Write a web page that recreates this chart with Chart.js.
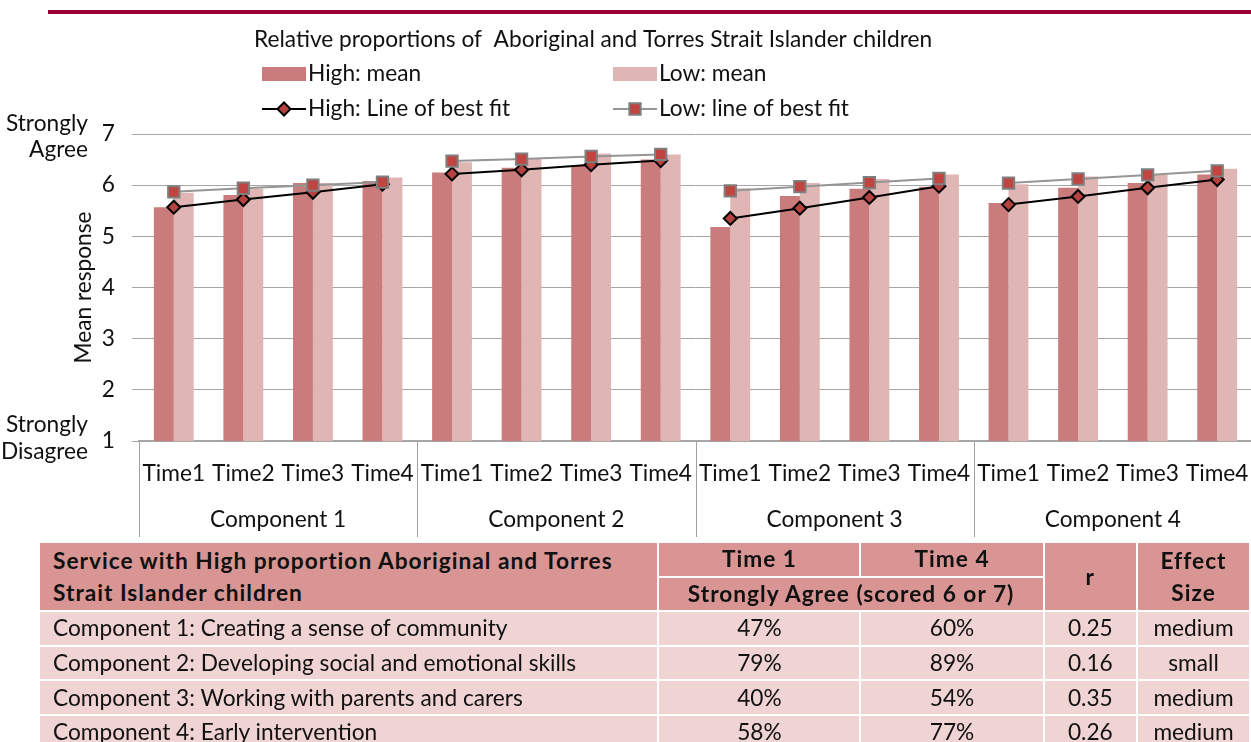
<!DOCTYPE html>
<html>
<head>
<meta charset="utf-8">
<script src="https://cdn.jsdelivr.net/npm/chart.js@4.4.1/dist/chart.umd.min.js"></script>
<style>
html, body { margin: 0; padding: 0; background: #fff; width: 1251px; height: 742px; overflow: hidden; }
body { position: relative; font-family: Lato, "Open Sans", sans-serif; color: #111; }
.rule { position: absolute; left: 48px; top: 10px; width: 1210px; height: 4px; background: #990033; }
#wrap { position: absolute; left: 0; top: 0; width: 1262px; height: 542px; }
#tbl { position: absolute; left: 38px; top: 541px; border-collapse: separate; border-spacing: 2px; table-layout: fixed; }
#tbl th, #tbl td { padding: 0; height: 32.6px; line-height: 32px; text-align: center; white-space: nowrap; overflow: hidden; }
#tbl th { background: #d99594; font-weight: bold; letter-spacing: 1px; }
#tbl td { background: #f0d4d3; font-weight: normal; }
#tbl .lft { text-align: left; padding-left: 13px; }
</style>
</head>
<body>
<div class="rule"></div>
<div id="wrap"><canvas id="grafica"></canvas></div>
<table id="tbl">
  <colgroup><col style="width:619px"><col style="width:201px"><col style="width:182px"><col style="width:93px"><col style="width:112px"></colgroup>
  <thead id="tbl-head"></thead>
  <tbody id="tbl-body"></tbody>
</table>
<script>
// --- DATOS ---
const chartTitle = 'Relative proportions of  Aboriginal and Torres Strait Islander children';
const timeLabels = ['Time1', 'Time2', 'Time3', 'Time4'];
const componentNames = ['Component 1', 'Component 2', 'Component 3', 'Component 4'];
const yTickValues = [1, 2, 3, 4, 5, 6, 7];

const highMean = [5.57, 5.81, 6.04, 6.08,  6.25, 6.34, 6.39, 6.50,  5.18, 5.79, 5.93, 5.97,  5.65, 5.95, 6.04, 6.21];
const lowMean  = [5.85, 5.93, 6.04, 6.15,  6.45, 6.51, 6.62, 6.60,  5.94, 6.04, 6.12, 6.21,  6.02, 6.17, 6.20, 6.32];
const highFit  = [5.57, 5.72, 5.86, 6.02,  6.22, 6.30, 6.40, 6.48,  5.35, 5.55, 5.76, 5.98,  5.62, 5.78, 5.95, 6.11];
const lowFit   = [5.87, 5.94, 6.00, 6.06,  6.47, 6.51, 6.56, 6.60,  5.89, 5.97, 6.05, 6.13,  6.04, 6.12, 6.20, 6.28];

// tabla
const tableTitle = ['Service with High proportion Aboriginal and Torres', 'Strait Islander children'];
const tableComponents = ['Component 1: Creating a sense of community', 'Component 2: Developing social and emotional skills',
  'Component 3: Working with parents and carers', 'Component 4: Early intervention'];
const time1Agree = ['47%', '79%', '40%', '58%'];
const time4Agree = ['60%', '89%', '54%', '77%'];
const rValues = ['0.25', '0.16', '0.35', '0.26'];
const effectSizes = ['medium', 'small', 'medium', 'medium'];

const FONT = 'Lato';
// tamaño de letra ajustado para que el título ocupe lo mismo que en la imagen
const mctx = document.createElement('canvas').getContext('2d');
mctx.font = '100px ' + FONT;
const fs = Math.round(1000 * 679 / mctx.measureText(chartTitle).width) / 10;
const txt = '#111';

// --- TABLA ---
function renderTabla() {
    document.getElementById('tbl').style.fontSize = fs + 'px';
    document.getElementById('tbl-head').innerHTML =
        `<tr><th rowspan="2" class="lft">${tableTitle[0]}<br>${tableTitle[1]}</th><th>Time 1</th><th>Time 4</th>` +
        `<th rowspan="2">r</th><th rowspan="2">Effect<br>Size</th></tr>` +
        `<tr><th colspan="2">Strongly Agree (scored 6 or 7)</th></tr>`;
    let rows = '';
    tableComponents.forEach((c, i) => {
        rows += `<tr><td class="lft">${c}</td><td>${time1Agree[i]}</td><td>${time4Agree[i]}</td><td>${rValues[i]}</td><td>${effectSizes[i]}</td></tr>`;
    });
    document.getElementById('tbl-body').innerHTML = rows;
}

// --- GRÁFICA ---
const labels = [];
componentNames.forEach(() => timeLabels.forEach(t => labels.push(t)));

const gapSegment = color => ({ borderColor: ctx => (ctx.p0DataIndex % 4 === 3 ? 'rgba(0,0,0,0)' : color) });

// leyenda, textos del eje y niveles del eje x
const extras = {
    id: 'extras',
    afterDraw(chart) {
        const ctx = chart.ctx;
        const x = chart.scales.x;
        const area = chart.chartArea;
        const font = fs + 'px ' + FONT;
        ctx.save();
        ctx.fillStyle = txt;
        ctx.font = font;
        ctx.textBaseline = 'middle';
        ctx.textAlign = 'left';
        ctx.fillText(chartTitle, 254, 40);

        // leyenda en dos columnas
        const ds = chart.data.datasets;
        const slots = [[262, 74], [613, 74], [262, 109], [613, 109]];
        ds.forEach((d, i) => {
            const [lx, ly] = slots[i];
            if (d.type === 'line') {
                ctx.strokeStyle = d.borderColor;
                ctx.lineWidth = d.borderWidth;
                ctx.beginPath(); ctx.moveTo(lx, ly); ctx.lineTo(lx + 44, ly); ctx.stroke();
                ctx.fillStyle = d.pointBackgroundColor;
                ctx.strokeStyle = d.pointBorderColor;
                ctx.lineWidth = d.pointBorderWidth;
                Chart.helpers.drawPoint(ctx, { pointStyle: d.pointStyle, radius: d.pointRadius, rotation: 0, borderWidth: d.pointBorderWidth }, lx + 22, ly);
            } else {
                ctx.fillStyle = d.backgroundColor;
                ctx.fillRect(lx, ly - 7, 44, 14);
            }
            ctx.fillStyle = txt;
            ctx.fillText(d.label, lx + 46, ly);
        });

        // textos del eje y
        ctx.textAlign = 'right';
        ctx.fillText('Strongly', 88, 124);
        ctx.fillText('Agree', 88, 150);
        ctx.fillText('Strongly', 88, 425);
        ctx.fillText('Disagree', 88, 452);
        ctx.save();
        ctx.translate(84, (area.top + area.bottom) / 2);
        ctx.rotate(-Math.PI / 2);
        ctx.textAlign = 'center';
        ctx.fillText('Mean response', 0, 0);
        ctx.restore();

        // separadores y nombres de componentes
        const half = (x.getPixelForValue(1) - x.getPixelForValue(0)) / 2;
        ctx.strokeStyle = '#a0a0a0';
        ctx.lineWidth = 1;
        for (let i = 0; i <= componentNames.length; i++) {
            const px = Math.round(x.getPixelForValue(i * 4) - half) + 0.5;
            ctx.beginPath(); ctx.moveTo(px, area.bottom); ctx.lineTo(px, 537); ctx.stroke();
        }
        ctx.textAlign = 'center';
        componentNames.forEach((c, i) => {
            const cx = (x.getPixelForValue(i * 4) + x.getPixelForValue(i * 4 + 3)) / 2;
            ctx.fillText(c, cx, 520);
        });
        ctx.restore();
    }
};

function inicializarGrafica() {
    const ctx = document.getElementById('grafica').getContext('2d');
    new Chart(ctx, {
        type: 'bar',
        data: {
            labels: labels,
            datasets: [
                { label: 'High: mean', data: highMean, backgroundColor: '#c97c7b', order: 2 },
                { label: 'Low: mean', data: lowMean, backgroundColor: '#e0b6b5', order: 2 },
                {
                    type: 'line', label: 'High: Line of best fit', data: highFit, order: 1,
                    borderColor: '#000', borderWidth: 2, segment: gapSegment('#000'),
                    pointStyle: 'rectRot', pointRadius: 6.5, pointBackgroundColor: '#b5423f',
                    pointBorderColor: '#000', pointBorderWidth: 2
                },
                {
                    type: 'line', label: 'Low: line of best fit', data: lowFit, order: 0,
                    borderColor: '#959595', borderWidth: 2, segment: gapSegment('#959595'),
                    pointStyle: 'rect', pointRadius: 8, pointBackgroundColor: '#c0443f',
                    pointBorderColor: '#7f7f7f', pointBorderWidth: 2
                }
            ]
        },
        options: {
            responsive: true, maintainAspectRatio: false, animation: false,
            layout: { padding: { top: 134, right: 6, left: 0, bottom: 0 } },
            datasets: { bar: { categoryPercentage: 0.573, barPercentage: 1.0 } },
            plugins: { legend: { display: false }, tooltip: { enabled: false } },
            scales: {
                x: {
                    grid: { display: false },
                    border: { display: true, color: '#a6a6a6', width: 1.5 },
                    ticks: { autoSkip: false, maxRotation: 0, padding: 11, color: txt, font: { family: FONT, size: fs } },
                    afterFit: s => { s.height = 101; }
                },
                y: {
                    min: 1, max: 7,
                    afterBuildTicks: s => { s.ticks = yTickValues.map(v => ({ value: v })); },
                    grid: { color: '#a6a6a6', lineWidth: 1, tickLength: 7 },
                    border: { display: false },
                    ticks: { padding: 17, color: txt, font: { family: FONT, size: fs } },
                    afterFit: s => { s.width = 139; }
                }
            }
        },
        plugins: [extras]
    });
}

renderTabla();
inicializarGrafica();
</script>
</body>
</html>
